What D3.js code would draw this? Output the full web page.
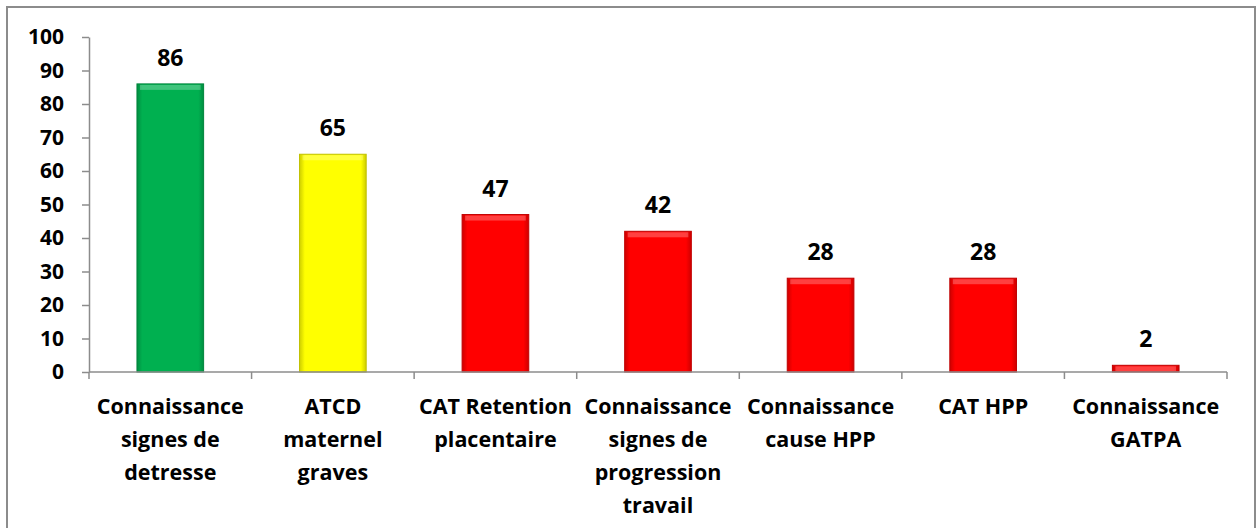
<!DOCTYPE html>
<html>
<head>
<meta charset="utf-8">
<script src="https://cdn.jsdelivr.net/npm/d3@7/dist/d3.min.js"></script>
<style>
  body { margin: 0; background: #fff; }
  text { font-family: "Open Sans", sans-serif; font-weight: bold; fill: #000; }
</style>
</head>
<body>
<script>
const width = 1257,
    height = 528;

// data
const categories = [
    ["Connaissance", "signes de", "detresse"],
    ["ATCD", "maternel", "graves"],
    ["CAT Retention", "placentaire"],
    ["Connaissance", "signes de", "progression", "travail"],
    ["Connaissance", "cause HPP"],
    ["CAT HPP"],
    ["Connaissance", "GATPA"]
];
const values = [86, 65, 47, 42, 28, 28, 2];
const barColors = ["#00b050", "#ffff00", "#ff0000", "#ff0000", "#ff0000", "#ff0000", "#ff0000"];
const yTicks = [0, 10, 20, 30, 40, 50, 60, 70, 80, 90, 100];

const svg = d3.select("body").append("svg")
    .attr("width", width)
    .attr("height", height);

// outer frame
svg.append("rect")
    .attr("x", 7).attr("y", 7)
    .attr("width", 1248).attr("height", 540)
    .attr("fill", "#fff")
    .attr("stroke", "#8c8c8c")
    .attr("stroke-width", 2);

const m = { left: 89, right: 1227, top: 37, bottom: 372 };

const x = d3.scaleBand()
    .domain(d3.range(values.length))
    .range([m.left, m.right])
    .paddingInner(0.59)
    .paddingOuter(0.295);

const y = d3.scaleLinear()
    .domain([0, 100])
    .range([m.bottom, m.top]);

// gradients: darker edges
const defs = svg.append("defs");
const shades = Array.from(new Set(barColors));
shades.forEach((c, i) => {
    const g = defs.append("linearGradient")
        .attr("id", "grad" + i)
        .attr("x1", 0).attr("x2", 1).attr("y1", 0).attr("y2", 0);
    const dark = d3.color(c).darker(0.6);
    g.append("stop").attr("offset", "0%").attr("stop-color", dark);
    g.append("stop").attr("offset", "8%").attr("stop-color", c);
    g.append("stop").attr("offset", "92%").attr("stop-color", c);
    g.append("stop").attr("offset", "100%").attr("stop-color", dark);
});

// y axis
const yAxis = svg.append("g")
    .attr("transform", `translate(${m.left},0)`)
    .call(d3.axisLeft(y).tickValues(yTicks).tickSize(7).tickPadding(18).tickSizeOuter(0));
yAxis.select(".domain").attr("stroke", "#8c8c8c").attr("stroke-width", 1.5);
yAxis.selectAll(".tick line").attr("stroke", "#8c8c8c").attr("stroke-width", 1.5);
yAxis.selectAll(".tick text")
    .attr("font-size", 21)
    .attr("font-family", "Open Sans, sans-serif")
    .attr("font-weight", "bold")
    .attr("fill", "#000");

// bars
svg.append("g").selectAll("rect")
    .data(values)
    .enter()
    .append("rect")
    .attr("x", (d, i) => x(i))
    .attr("y", d => y(d))
    .attr("width", x.bandwidth())
    .attr("height", d => y(0) - y(d))
    .attr("fill", (d, i) => "url(#grad" + shades.indexOf(barColors[i]) + ")")
    .attr("stroke", (d, i) => d3.color(barColors[i]).darker(0.8))
    .attr("stroke-width", 1);

// top highlight
svg.append("g").selectAll("rect")
    .data(values)
    .enter()
    .append("rect")
    .attr("x", (d, i) => x(i) + 3)
    .attr("y", d => y(d) + 1)
    .attr("width", x.bandwidth() - 6)
    .attr("height", d => Math.min(5, y(0) - y(d) - 2))
    .attr("fill", "#fff")
    .attr("opacity", 0.25);

// x axis
const xAxisG = svg.append("g");
xAxisG.append("line")
    .attr("x1", m.left).attr("x2", m.right)
    .attr("y1", y(0)).attr("y2", y(0))
    .attr("stroke", "#8c8c8c").attr("stroke-width", 1.5);
xAxisG.selectAll(".xt")
    .data(d3.range(values.length + 1))
    .enter()
    .append("line")
    .attr("x1", i => m.left + i * x.step())
    .attr("x2", i => m.left + i * x.step())
    .attr("y1", y(0)).attr("y2", y(0) + 7)
    .attr("stroke", "#8c8c8c").attr("stroke-width", 1.5);

// value labels
svg.append("g").selectAll("text")
    .data(values)
    .enter()
    .append("text")
    .attr("x", (d, i) => x(i) + x.bandwidth() / 2)
    .attr("y", d => y(d) - 18)
    .attr("text-anchor", "middle")
    .attr("font-size", 23)
    .text(d => d);

// category labels
const cat = svg.append("g").selectAll("text")
    .data(categories)
    .enter()
    .append("text")
    .attr("text-anchor", "middle")
    .attr("font-size", 21.5)
    .attr("x", (d, i) => x(i) + x.bandwidth() / 2)
    .attr("y", 414);
cat.selectAll("tspan")
    .data(d => d)
    .enter()
    .append("tspan")
    .attr("x", function () { return d3.select(this.parentNode).attr("x"); })
    .attr("dy", (d, j) => j === 0 ? 0 : 33)
    .text(d => d);
</script>
</body>
</html>
